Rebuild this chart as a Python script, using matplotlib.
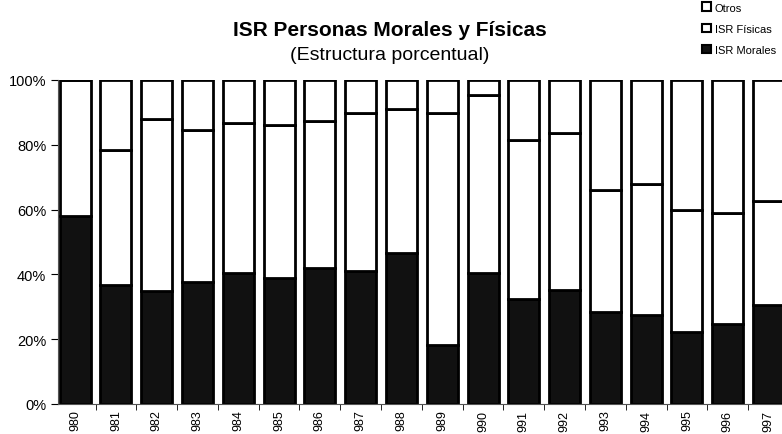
"""ISR Personas Morales y Fisicas - estructura porcentual (stacked 100% bars)."""
import matplotlib
matplotlib.use("Agg")
import matplotlib.pyplot as plt
import numpy as np
from matplotlib.patches import Patch

plt.rcParams["font.family"] = ["Liberation Sans", "DejaVu Sans"]

years = ["980", "981", "982", "983", "984", "985", "986", "987", "988",
         "989", "990", "991", "992", "993", "994", "995", "996", "997"]
morales = [58.1, 36.8, 34.8, 37.6, 40.3, 39.0, 42.1, 41.2, 46.7,
           18.3, 40.3, 32.4, 35.1, 28.3, 27.5, 22.3, 24.7, 30.6]
fisicas_top = [100.0, 78.5, 88.1, 84.5, 86.6, 86.0, 87.3, 89.8, 91.1,
               89.9, 95.5, 81.4, 83.6, 66.1, 68.0, 60.0, 59.0, 62.7]

morales = np.array(morales)
fisicas = np.array(fisicas_top) - morales
otros = 100.0 - np.array(fisicas_top)

W, H = 782, 435
fig = plt.figure(figsize=(W / 100, H / 100), dpi=100)
ax = fig.add_axes([58 / W, (H - 405) / H, (W - 58) / W, 324 / H])

x = np.arange(len(years))
w = 0.76
kw = dict(width=w, edgecolor="black", linewidth=2.0)
ax.bar(x, morales, color="#111111", **kw)
ax.bar(x, fisicas, bottom=morales, color="white", **kw)
ax.bar(x, otros, bottom=morales + fisicas, color="white", **kw)

ax.set_xlim(-0.42, 17.33)
ax.set_ylim(0, 100)
ax.set_yticks([0, 20, 40, 60, 80, 100])
ax.set_yticklabels(["0%", "20%", "40%", "60%", "80%", "100%"], fontsize=10.5)
ax.set_xticks(x)
ax.set_xticklabels(years, rotation=90, fontsize=9)
ax.tick_params(axis="x", length=0, pad=4)
ax.set_xticks(x[:-1] + 0.5, minor=True)
ax.tick_params(axis="x", which="minor", length=4, direction="out")
ax.tick_params(axis="y", length=5, direction="out")
for s in ["top", "right"]:
    ax.spines[s].set_visible(False)
ax.spines["left"].set_color("#555555")
ax.spines["bottom"].set_color("#555555")

fig.text(390 / W, 1 - 30 / H, "ISR Personas Morales y Físicas", ha="center", va="center",
         fontsize=15, fontweight="bold")
fig.text(390 / W, 1 - 55 / H, "(Estructura porcentual)", ha="center", va="center", fontsize=14)

handles = [Patch(facecolor="white", edgecolor="black", linewidth=1.5, label="Otros"),
           Patch(facecolor="white", edgecolor="black", linewidth=1.5, label="ISR Físicas"),
           Patch(facecolor="#111111", edgecolor="black", linewidth=1.5, label="ISR Morales")]
fig.legend(handles=handles, loc="upper left", bbox_to_anchor=(698 / W, 1 + 1 / H),
           frameon=False, fontsize=8, handlelength=0.8, handleheight=0.8,
           handletextpad=0.3, labelspacing=1.0, borderaxespad=0)

fig.savefig("out.png", dpi=100)
